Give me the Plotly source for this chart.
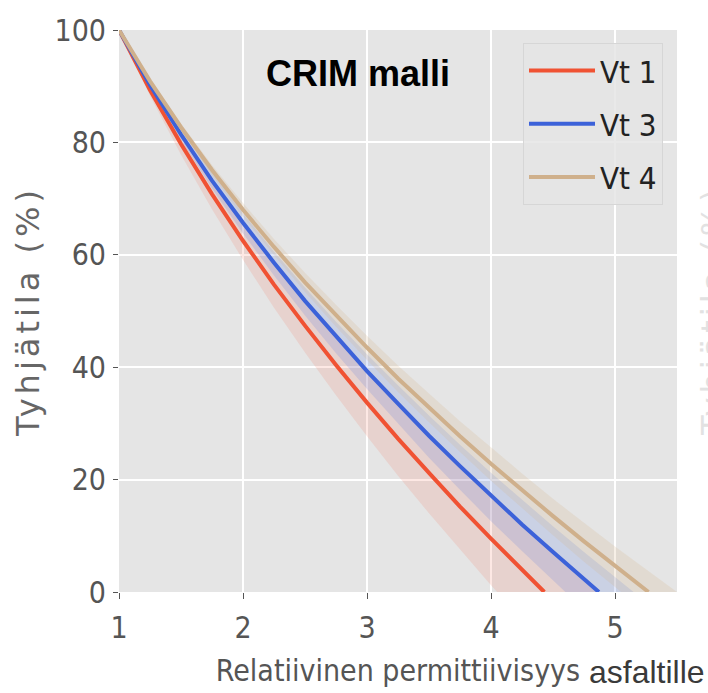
import plotly.graph_objects as go

# ---- data ----
series_names = ["Vt 1", "Vt 3", "Vt 4"]

x_vt1 = [1.0, 1.25, 1.5, 1.75, 2.0, 2.25, 2.5, 2.75, 3.0, 3.25, 3.5, 3.75, 4.0, 4.25, 4.43]
y_vt1 = [100, 89.3, 79.7, 70.8, 62.5, 54.7, 47.4, 40.4, 33.7, 27.3, 21.2, 15.2, 9.5, 3.9, 0]

x_vt3 = [1.0, 1.25, 1.5, 1.75, 2.0, 2.25, 2.5, 2.75, 3.0, 3.25, 3.5, 3.75, 4.0, 4.25, 4.5, 4.75, 4.87]
y_vt3 = [100, 90.2, 81.4, 73.2, 65.7, 58.6, 51.8, 45.5, 39.3, 33.5, 27.8, 22.4, 17.1, 12.0, 7.1, 2.3, 0]

x_vt4 = [1.0, 1.25, 1.5, 1.75, 2.0, 2.25, 2.5, 2.75, 3.0, 3.25, 3.5, 3.75, 4.0, 4.25, 4.5, 4.75, 5.0, 5.25, 5.27]
y_vt4 = [100, 90.9, 82.7, 75.1, 68.0, 61.4, 55.1, 49.2, 43.5, 38.0, 32.8, 27.7, 22.8, 18.1, 13.5, 9.0, 4.6, 0.3, 0]

# uncertainty bands (lower / upper edges)
x_vt1_lo = [1.0, 1.25, 1.5, 1.75, 2.0, 2.25, 2.5, 2.75, 3.0, 3.25, 3.5, 3.75, 4.0, 4.05]
y_vt1_lo = [100, 88.3, 77.8, 68.1, 59.1, 50.6, 42.6, 35.0, 27.7, 20.7, 14.0, 7.5, 1.2, 0]
x_vt1_hi = [1.0, 1.25, 1.5, 1.75, 2.0, 2.25, 2.5, 2.75, 3.0, 3.25, 3.5, 3.75, 4.0, 4.25, 4.5, 4.75, 4.85]
y_vt1_hi = [100, 90.2, 81.3, 73.1, 65.5, 58.4, 51.7, 45.2, 39.1, 33.2, 27.6, 22.1, 16.8, 11.7, 6.7, 1.9, 0]

x_vt3_lo = [1.0, 1.25, 1.5, 1.75, 2.0, 2.25, 2.5, 2.75, 3.0, 3.25, 3.5, 3.75, 4.0, 4.25, 4.5, 4.6]
y_vt3_lo = [100, 89.7, 80.4, 71.8, 63.8, 56.3, 49.2, 42.5, 36.1, 29.9, 23.9, 18.2, 12.6, 7.3, 2.1, 0]
x_vt3_hi = [1.0, 1.25, 1.5, 1.75, 2.0, 2.25, 2.5, 2.75, 3.0, 3.25, 3.5, 3.75, 4.0, 4.25, 4.5, 4.75, 5.0, 5.15]
y_vt3_hi = [100, 90.7, 82.3, 74.6, 67.4, 60.6, 54.2, 48.1, 42.3, 36.8, 31.4, 26.2, 21.2, 16.4, 11.7, 7.1, 2.6, 0]

x_vt4_lo = [1.0, 1.25, 1.5, 1.75, 2.0, 2.25, 2.5, 2.75, 3.0, 3.25, 3.5, 3.75, 4.0, 4.25, 4.5, 4.75, 5.0, 5.05]
y_vt4_lo = [100, 90.5, 82.0, 74.1, 66.8, 59.9, 53.4, 47.2, 41.3, 35.6, 30.2, 24.9, 19.8, 14.9, 10.1, 5.4, 0.9, 0]
x_vt4_hi = [1.0, 1.25, 1.5, 1.75, 2.0, 2.25, 2.5, 2.75, 3.0, 3.25, 3.5, 3.75, 4.0, 4.25, 4.5, 4.75, 5.0, 5.25, 5.5]
y_vt4_hi = [100, 91.2, 83.3, 76.0, 69.2, 62.8, 56.8, 51.1, 45.6, 40.3, 35.3, 30.4, 25.7, 21.1, 16.6, 12.3, 8.1, 4.0, 0]

x_ticks = [1, 2, 3, 4, 5]
y_ticks = [0, 20, 40, 60, 80, 100]

# ---- styling ----
line_colors = ["#F05233", "#3C62D9", "#CFB08C"]
band_colors = ["rgba(245,110,90,0.16)", "rgba(70,110,225,0.17)", "rgba(215,180,140,0.22)"]
COND = "DejaVu Sans Condensed, DejaVu Sans, sans-serif"

lines = [(x_vt1, y_vt1), (x_vt3, y_vt3), (x_vt4, y_vt4)]
bands = [(x_vt1_lo, y_vt1_lo, x_vt1_hi, y_vt1_hi),
         (x_vt3_lo, y_vt3_lo, x_vt3_hi, y_vt3_hi),
         (x_vt4_lo, y_vt4_lo, x_vt4_hi, y_vt4_hi)]

fig = go.Figure()
for (xl, yl, xh, yh), bc, nm in zip(bands, band_colors, series_names):
    fig.add_trace(go.Scatter(
        x=xl + xh[::-1], y=yl + yh[::-1], fill="toself", fillcolor=bc,
        line=dict(width=0), mode="lines", hoverinfo="skip", showlegend=False,
        name=nm + " band", legendgroup=nm))
for (xs, ys), lc, nm in zip(lines, line_colors, series_names):
    fig.add_trace(go.Scatter(x=xs, y=ys, mode="lines", name=nm, legendgroup=nm,
                             line=dict(color=lc, width=4)))

fig.update_layout(
    width=708, height=693,
    margin=dict(l=119, r=31, t=22, b=101),
    paper_bgcolor="white", plot_bgcolor="#E5E5E5",
    font=dict(family=COND, color="#555555"),
    showlegend=True,
    legend=dict(x=(663 - 119) / 558, y=1 - (35 - 22) / 570, xanchor="right", yanchor="top",
                bgcolor="rgba(229,229,229,0.85)", bordercolor="#D6D6D6", borderwidth=1,
                font=dict(family=COND, size=31, color="#222222"),
                itemwidth=66, tracegroupgap=10),
    xaxis=dict(range=[1, 5.5], tickvals=x_ticks, ticktext=[str(v) for v in x_ticks],
               showgrid=True, gridcolor="white", gridwidth=1.5, zeroline=False,
               ticks="outside", ticklen=6, tickcolor="#555555",
               tickfont=dict(size=30, color="#555555"), ticklabelstandoff=3,
               title=dict(text="Relatiivinen permittiivisyys",
                          font=dict(size=30, color="#555555"), standoff=15)),
    yaxis=dict(range=[0, 100], tickvals=y_ticks, ticktext=[str(v) for v in y_ticks],
               showgrid=True, gridcolor="white", gridwidth=1.5, zeroline=False,
               ticks="outside", ticklen=5, tickcolor="#555555",
               tickfont=dict(size=30, color="#555555"), ticklabelstandoff=1,
               title=dict(text='<span style="letter-spacing:4px">Tyhjätila (%)</span>',
                          font=dict(family="DejaVu Sans", size=32, color="#666666"),
                          standoff=5)),
    annotations=[
        dict(text="<b>CRIM malli</b>", xref="paper", yref="paper", x=0.428, y=0.922,
             xanchor="center", yanchor="middle", showarrow=False,
             font=dict(family="Liberation Sans, Arial, sans-serif", size=36, color="black")),
        dict(text="asfaltille", xref="paper", yref="paper", x=(587 - 119) / 558, y=-(673 - 592) / 570,
             xanchor="left", yanchor="middle", showarrow=False,
             font=dict(family="Liberation Sans, Arial, sans-serif", size=32, color="#3A3A3A")),
        dict(text='<span style="letter-spacing:4px">Tyhjätila (%)</span>', xref="paper", yref="paper",
             x=(713 - 119) / 558, y=0.5, textangle=-90,
             xanchor="center", yanchor="middle", showarrow=False,
             font=dict(family="DejaVu Sans", size=32, color="#E2E2E2")),
    ],
)

fig.write_html("out.html")
